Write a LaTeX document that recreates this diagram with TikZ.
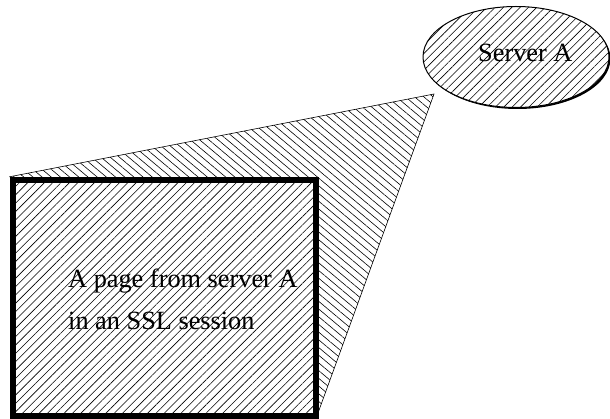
\documentclass[tikz,border=0pt]{standalone}
\usepackage{fontspec}
\setmainfont{Liberation Serif}
\usetikzlibrary{patterns.meta,shapes.geometric,shadows,backgrounds,calc}
\begin{document}
\begin{tikzpicture}[x=1pt,y=-1pt,
  hatchfwd/.style={pattern={Lines[angle=45,distance=5.9pt,line width=0.6pt]},pattern color=black},
  hatchback/.style={pattern={Lines[angle=-40,distance=5.9pt,line width=0.6pt]},pattern color=black},
  pagebox/.style={rectangle,draw=black,line width=6.5pt,fill=white,
    minimum width=303pt,minimum height=236pt,inner sep=0pt,postaction={hatchfwd}},
  hostblob/.style={ellipse,draw=black,line width=1pt,fill=white,
    minimum width=186pt,minimum height=101pt,inner sep=0pt,
    drop shadow={shadow xshift=1.5pt,shadow yshift=-1.5pt,opacity=1,fill=black},
    postaction={hatchfwd}},
  beam/.style={draw=black,line width=0.6pt,hatchback},
  txt/.style={anchor=base west,inner sep=0pt,font=\fontsize{26.3}{30}\selectfont}]
\useasboundingbox (0,0) rectangle (610,419);

% server ellipse and the tip of the view cone
\node[hostblob] (server) at (516,57) {};
\node[txt] (servertext) at (478,62) {Server A};
\coordinate (tip) at (434,94);

% the page shown to the user
\node[pagebox] (page) at (164.5,298) {};
\node[txt] (line1) at (68,288) {A page from server A};
\node[txt] (line2) at (68,330) {in an SSL session};

% view cone from the server to the page, behind the page
\begin{scope}[on background layer]
  \path[beam] (page.north west) -- (tip) -- ($(page.south east)+(-1,-7)$) -- cycle;
\end{scope}
\end{tikzpicture}
\end{document}
